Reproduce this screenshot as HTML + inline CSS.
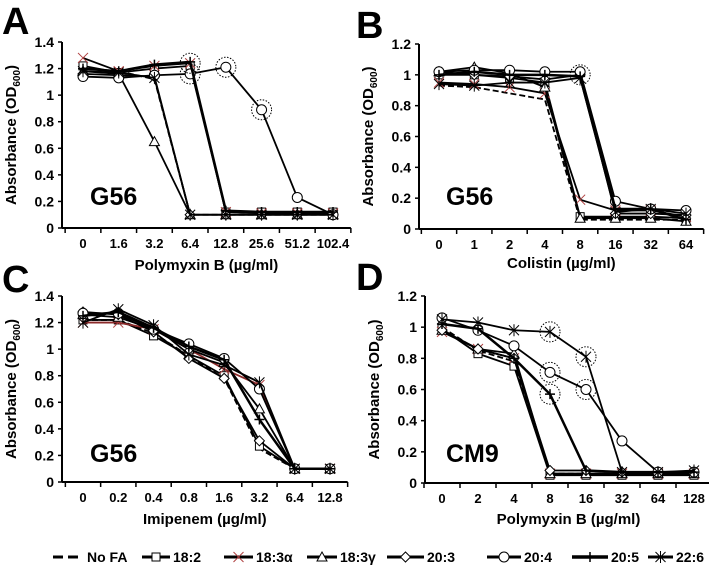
<!DOCTYPE html>
<html><head><meta charset="utf-8"><style>
html,body{margin:0;padding:0;background:#fff;}
svg{display:block;font-family:"Liberation Sans",Arial,sans-serif;font-weight:bold;}
</style></head><body>
<svg id="fig" width="709" height="568" viewBox="0 0 709 568"></svg>
<script>
const seriesNames=["No FA","18:2","18:3α","18:3γ","20:3","20:4","20:5","22:6"];
const markers=["none","square","xred","triangle","diamond","circle","plus","star"];
const catsA=["0","1.6","3.2","6.4","12.8","25.6","51.2","102.4"];
const catsB=["0","1","2","4","8","16","32","64"];
const catsC=["0","0.2","0.4","0.8","1.6","3.2","6.4","12.8"];
const catsD=["0","2","4","8","16","32","64","128"];
const ticks14=[0,0.2,0.4,0.6,0.8,1,1.2,1.4];
const ticks12=[0,0.2,0.4,0.6,0.8,1,1.2];
const valsA=[
[1.2,1.18,1.12,0.1,0.1,0.1,0.1,0.1],
[1.22,1.17,1.2,1.22,0.12,0.12,0.12,0.12],
[1.28,1.18,1.22,1.24,0.12,0.11,0.11,0.11],
[1.18,1.16,0.65,0.1,0.1,0.1,0.1,0.1],
[1.16,1.15,1.14,0.1,0.1,0.1,0.1,0.1],
[1.14,1.13,1.15,1.16,1.21,0.89,0.23,0.1],
[1.2,1.18,1.23,1.25,0.13,0.12,0.12,0.12],
[1.18,1.17,1.13,0.1,0.1,0.1,0.1,0.1]];
const valsB=[
[0.93,0.92,0.88,0.84,0.06,0.06,0.06,0.06],
[1.0,1.0,0.98,0.95,0.08,0.08,0.08,0.07],
[0.95,0.94,0.92,0.88,0.19,0.12,0.12,0.08],
[1.02,1.05,1.01,0.92,0.07,0.07,0.07,0.05],
[1.02,1.0,0.99,0.97,1.0,0.1,0.1,0.09],
[1.02,1.03,1.03,1.02,1.02,0.18,0.13,0.12],
[1.0,1.02,1.0,1.0,0.99,0.13,0.13,0.06],
[0.94,0.93,0.95,0.95,0.98,0.11,0.13,0.1]];
const valsC=[
[1.22,1.22,1.12,0.95,0.78,0.25,0.1,0.1],
[1.22,1.22,1.1,0.95,0.8,0.27,0.1,0.1],
[1.2,1.2,1.15,1.0,0.85,0.73,0.1,0.1],
[1.26,1.24,1.15,1.0,0.9,0.55,0.1,0.1],
[1.28,1.26,1.13,0.93,0.78,0.31,0.1,0.1],
[1.27,1.27,1.15,1.04,0.93,0.7,0.1,0.1],
[1.25,1.28,1.16,1.02,0.92,0.47,0.1,0.1],
[1.2,1.3,1.18,0.96,0.88,0.75,0.1,0.1]];
const valsD=[
[1.0,0.85,0.78,0.06,0.06,0.06,0.06,0.06],
[0.99,0.83,0.75,0.05,0.05,0.05,0.05,0.05],
[0.97,0.86,0.8,0.06,0.06,0.06,0.06,0.06],
[0.98,0.86,0.83,0.06,0.06,0.06,0.06,0.06],
[0.98,0.86,0.8,0.08,0.08,0.07,0.07,0.07],
[1.06,0.98,0.88,0.71,0.6,0.27,0.07,0.07],
[1.02,0.99,0.8,0.57,0.08,0.07,0.07,0.07],
[1.05,1.03,0.98,0.97,0.81,0.07,0.07,0.08]];
const circA=[[3,2],[3,5],[4,5],[5,5]];
const circB=[[4,4]];
const circC=[];
const circD=[[3,7],[4,7],[3,5],[4,5],[3,6]];

const NS="http://www.w3.org/2000/svg";
const svg=document.getElementById('fig');
function mk(tag,attrs,parent){const e=document.createElementNS(NS,tag);for(const k in attrs)e.setAttribute(k,attrs[k]);(parent||svg).appendChild(e);return e;}
function txt(s,attrs,parent){const e=mk('text',attrs,parent);e.textContent=s;return e;}

function marker(g,type,x,y,col){
  const st={stroke:col||'#000','stroke-width':1,fill:'#fff'};
  let m;
  if(type==='square') m=mk('rect',Object.assign({x:x-4,y:y-4,width:8,height:8},st),g);
  else if(type==='triangle') m=mk('polygon',Object.assign({points:`${x},${y-5} ${x+5},${y+4} ${x-5},${y+4}`},st),g);
  else if(type==='diamond') m=mk('polygon',Object.assign({points:`${x},${y-5} ${x+5},${y} ${x},${y+5} ${x-5},${y}`},st),g);
  else if(type==='circle') m=mk('circle',Object.assign({cx:x,cy:y,r:5},st),g);
  else if(type==='plus') m=mk('path',{d:`M${x-5} ${y}H${x+5}M${x} ${y-5}V${y+5}`,stroke:'#000','stroke-width':1.5,fill:'none'},g);
  else if(type==='star') m=mk('path',{d:`M${x-5} ${y-5}L${x+5} ${y+5}M${x-5} ${y+5}L${x+5} ${y-5}M${x} ${y-6}V${y+6}`,stroke:'#000','stroke-width':1,fill:'none'},g);
  else if(type==='xred') m=mk('path',{d:`M${x-5} ${y-5}L${x+5} ${y+5}M${x-5} ${y+5}L${x+5} ${y-5}`,stroke:col||'#000','stroke-width':1,fill:'none'},g);
  return m;
}

function panel(o){
  const g=mk('g',{});
  
  
  const n=o.cats.length;
  const step=(o.xLast-o.x0)/(n-1);
  const xs=i=>o.x0+i*step;
  const ys=v=>o.yb-(v/o.ymax)*(o.yb-o.yt);
  const left=o.ax, right=o.x0-step/2+n*step;
  const L=txt(o.letter,{x:o.lx,y:o.ly,'font-size':38,fill:'#000'},g);
  
  
  const ya=mk('line',{x1:left,y1:o.yt,x2:left,y2:o.yb,stroke:'#000','stroke-width':2},g);
  
  const xa=mk('line',{x1:left,y1:o.yb,x2:right,y2:o.yb,stroke:'#000','stroke-width':2},g);
  
  o.ticks.forEach(t=>{
    mk('line',{x1:left-4,y1:ys(t),x2:left,y2:ys(t),stroke:'#000','stroke-width':1.5},g);
    const tl=txt(String(t),{x:left-8,y:ys(t)+5,'font-size':14,'text-anchor':'end'},g);
    
  });
  for(let i=0;i<=n;i++){const x=o.x0-step/2+i*step;mk('line',{x1:x,y1:o.yb,x2:x,y2:o.yb+5,stroke:'#000','stroke-width':1.5},g);}
  o.cats.forEach((c,i)=>{
    const tl=txt(c,{x:xs(i),y:o.yb+20,'font-size':13,'text-anchor':'middle'},g);
    
  });
  const xt=txt(o.xtitle,{x:(left+right)/2,y:o.xty,'font-size':15,'text-anchor':'middle'},g);
  
  const ytx=o.ax-46, ycy=(o.yt+o.yb)/2;
  const yt=mk('text',{x:ytx,y:ycy,'font-size':15,'text-anchor':'middle',transform:`rotate(-90 ${ytx} ${ycy})`},g);
  
  yt.appendChild(document.createTextNode('Absorbance (OD'));
  const sub=mk('tspan',{'font-size':10,dy:4},yt);sub.textContent='600';
  const cl=mk('tspan',{dy:-4},yt);cl.textContent=')';
  const st=txt(o.strain,{x:o.sx,y:o.sy,'font-size':25,'text-anchor':'start'},g);
  
  o.vals.forEach((arr,si)=>{
    const sg=mk('g',{},g);
    
    
    const red=(si===2&&o.redLine);
    const pts=arr.map((v,i)=>xs(i)+','+ys(v)).join(' ');
    const pl=mk('polyline',{points:pts,fill:'none',stroke:red?'#8b2a2a':'#000','stroke-width':si===6?2.5:1.8,'stroke-dasharray':si===0?'6,3':'none'},sg);
    
    arr.forEach((v,i)=>{
      const m=marker(sg,markers[si],xs(i),ys(v),si===2?'#b04040':'#000');
      if(m){}
    });
  });
  o.circ.forEach(([i,si])=>{
    const c=mk('circle',{cx:xs(i),cy:ys(o.vals[si][i]),r:10,fill:'none',stroke:'#000','stroke-width':1,'stroke-dasharray':'1.5,1.5'},g);
    
  });
}

panel({name:'panel-a',letter:'A',lx:2,ly:34,cats:catsA,vals:valsA,ticks:ticks14,ymax:1.4,ax:62,x0:83,xLast:333,yt:42,yb:228,xtitle:'Polymyxin B (µg/ml)',xty:270,strain:'G56',sx:90,sy:205,circ:circA});
panel({name:'panel-b',letter:'B',lx:356,ly:38,cats:catsB,vals:valsB,ticks:ticks12,ymax:1.2,ax:419,x0:439,xLast:686,yt:44,yb:229,xtitle:'Colistin (µg/ml)',xty:268,strain:'G56',sx:446,sy:205,circ:circB});
panel({name:'panel-c',letter:'C',lx:2,ly:292,cats:catsC,vals:valsC,ticks:ticks14,ymax:1.4,ax:62,x0:83,xLast:330,yt:296,yb:482,xtitle:'Imipenem (µg/ml)',xty:524,strain:'G56',sx:90,sy:462,circ:circC,redLine:true});
panel({name:'panel-d',letter:'D',lx:356,ly:290,cats:catsD,vals:valsD,ticks:ticks12,ymax:1.2,ax:425,x0:442,xLast:694,yt:296,yb:483,xtitle:'Polymyxin B (µg/ml)',xty:524,strain:'CM9',sx:446,sy:462,circ:circD});

const legX1=[53,142,224,307,387,487,572,648];
const legX2=[80,170,253,337,424,521,608,673];
const lg=mk('g',{});


seriesNames.forEach((nm,i)=>{
  const eg=mk('g',{},lg);
  
  
  const y=557;
  mk('line',{x1:legX1[i],y1:y,x2:legX2[i],y2:y,stroke:'#000','stroke-width':i===6?3.5:3,'stroke-dasharray':i===0?'10,5':'none'},eg);
  marker(eg,markers[i],(legX1[i]+legX2[i])/2,y,i===2?'#b04040':'#000');
  txt(nm,{x:legX2[i]+(i===0?7:3),y:y+5,'font-size':14},eg);
});
</script>
</body></html>
